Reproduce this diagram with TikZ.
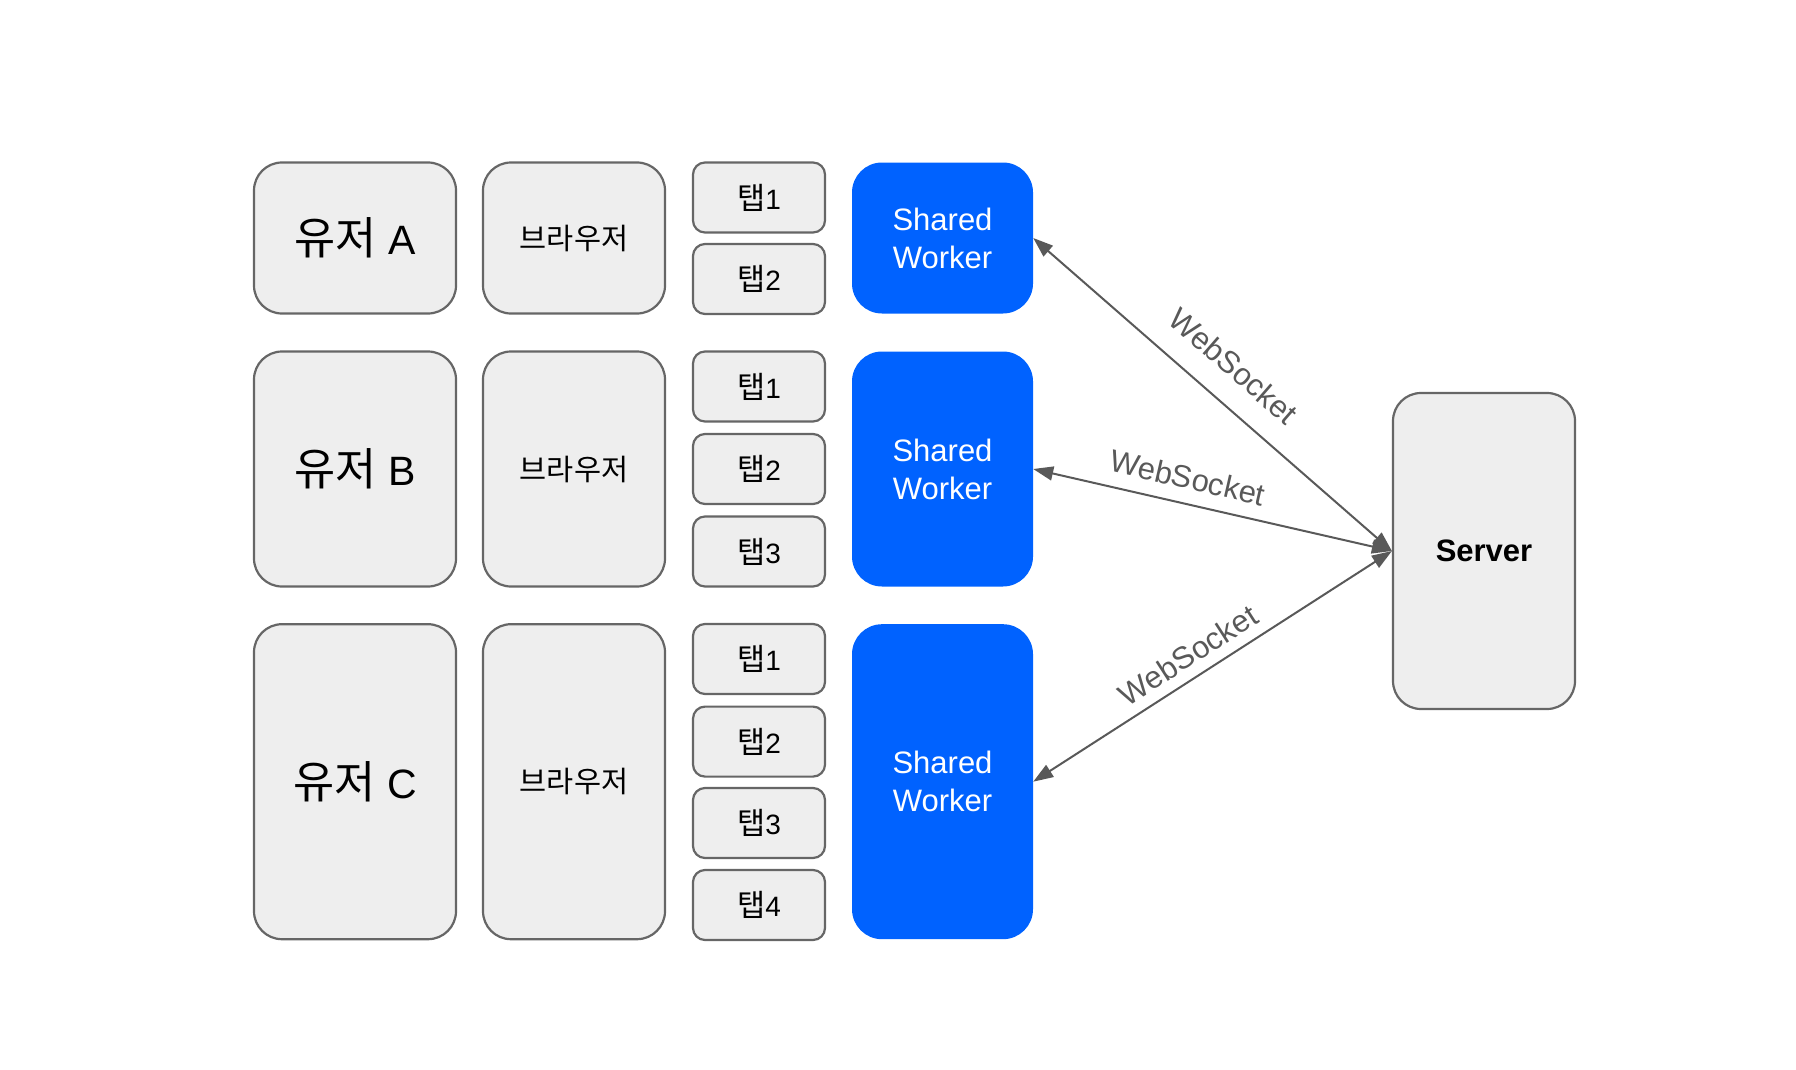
\documentclass[tikz,border=0pt]{standalone}
\usepackage{fontspec}
\setmainfont{Liberation Sans}
\newfontfamily\kr[Scale=1.09]{Noto Sans CJK KR}
\usetikzlibrary{arrows.meta}
\definecolor{boxfill}{HTML}{EEEEEE}
\definecolor{boxline}{HTML}{666666}
\definecolor{swblue}{HTML}{0062FF}
\definecolor{arrowgray}{HTML}{595959}
\begin{document}
\begin{tikzpicture}[x=1pt,y=1pt,
 gbox/.style={draw=boxline, fill=boxfill, line width=2.2pt, rounded corners=28pt, inner sep=0pt, text=black},
 userbox/.style={gbox, minimum width=202pt, font=\fontsize{41}{48}\selectfont},
 browserbox/.style={gbox, minimum width=182pt, font=\fontsize{27}{32}\selectfont},
 tabbox/.style={gbox, rounded corners=12pt, minimum width=132pt, minimum height=70pt, font=\fontsize{28}{32}\selectfont},
 worker/.style={fill=swblue, rounded corners=30pt, minimum width=181pt, text=white, align=center, font=\fontsize{31}{38}\selectfont, inner sep=0pt},
 server/.style={gbox, minimum width=182pt, minimum height=316pt, font=\fontsize{31}{38}\selectfont\bfseries},
 ws/.style={draw=arrowgray, line width=2pt, {Triangle[length=20pt,width=14pt]}-{Triangle[length=20pt,width=14pt]}},
 wslabel/.style={sloped, text=arrowgray, font=\fontsize{31}{38}\selectfont, inner sep=0pt}
]
\useasboundingbox (0,0) rectangle (1796,-1070);

% Row A
\node[userbox, minimum height=151pt] (ua) at (355,-238) {{\kr 유저} A};
\node[browserbox, minimum height=151pt] (ba) at (574,-238) {\kr 브라우저};
\node[tabbox] (ta1) at (759,-197.5) {{\kr 탭}1};
\node[tabbox] (ta2) at (759,-279) {{\kr 탭}2};
\node[worker, minimum height=151pt] (wa) at (942.5,-238) {Shared\\Worker};

% Row B
\node[userbox, minimum height=235pt] (ub) at (355,-469) {{\kr 유저} B};
\node[browserbox, minimum height=235pt] (bb) at (574,-469) {\kr 브라우저};
\node[tabbox] (tb1) at (759,-386.5) {{\kr 탭}1};
\node[tabbox] (tb2) at (759,-469) {{\kr 탭}2};
\node[tabbox] (tb3) at (759,-551.5) {{\kr 탭}3};
\node[worker, minimum height=235pt] (wb) at (942.5,-469) {Shared\\Worker};

% Row C
\node[userbox, minimum height=315pt] (uc) at (355,-781.7) {{\kr 유저} C};
\node[browserbox, minimum height=315pt] (bc) at (574,-781.7) {\kr 브라우저};
\node[tabbox] (tc1) at (759,-659) {{\kr 탭}1};
\node[tabbox] (tc2) at (759,-741.6) {{\kr 탭}2};
\node[tabbox] (tc3) at (759,-823) {{\kr 탭}3};
\node[tabbox] (tc4) at (759,-905) {{\kr 탭}4};
\node[worker, minimum height=315pt] (wc) at (942.5,-781.7) {Shared\\Worker};

% Server
\node[server] (srv) at (1484,-551) {Server};

% Connectors
\draw[ws] (wa.east) -- node[wslabel, pos=0.494, above=23pt] {WebSocket} (srv.west);
\draw[ws] (wb.east) -- node[wslabel, pos=0.415, above=13.6pt] {WebSocket} (srv.west);
\draw[ws] (wc.east) -- node[wslabel, pos=0.466, above=10.3pt] {WebSocket} (srv.west);
\end{tikzpicture}
\end{document}
